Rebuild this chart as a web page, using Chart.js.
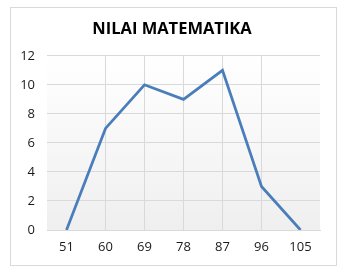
<!DOCTYPE html>
<html>
<head>
<meta charset="utf-8">
<script src="https://cdn.jsdelivr.net/npm/chart.js@4/dist/chart.umd.min.js"></script>
<style>
  html, body { margin: 0; padding: 0; background: #fff; }
  #wrap { width: 347px; height: 275px; }
</style>
</head>
<body>
<div id="wrap"><canvas id="chart" width="347" height="275"></canvas></div>
<script>
const labels = ["51", "60", "69", "78", "87", "96", "105"];
const values = [0, 7, 10, 9, 11, 3, 0];
const yTicks = [0, 2, 4, 6, 8, 10, 12];

// gradient plot background + outer frame
const background = {
  id: "background",
  afterLayout(chart) {
    // centre the title over the frame instead of the padded area
    if (chart.titleBlock) {
      chart.titleBlock.left += 12;
      chart.titleBlock.width -= 12;
    }
  },
  beforeDraw(chart) {
    const { ctx, chartArea: a } = chart;
    ctx.save();
    ctx.strokeStyle = "#d9d9d9";
    ctx.lineWidth = 1;
    ctx.strokeRect(10.5, 7.5, 326, 258);
    const g = ctx.createLinearGradient(0, a.top, 0, a.bottom);
    g.addColorStop(0, "#ffffff");
    g.addColorStop(1, "#efefef");
    ctx.fillStyle = g;
    ctx.fillRect(a.left, a.top, a.right - a.left, a.bottom - a.top);
    ctx.restore();
  },
};

new Chart(document.getElementById("chart").getContext("2d"), {
  type: "line",
  data: {
    labels: labels,
    datasets: [
      {
        data: values,
        borderColor: "#4a7ebb",
        borderWidth: 2.75,
        pointRadius: 0,
        tension: 0,
        fill: false,
      },
    ],
  },
  options: {
    responsive: false,
    animation: false,
    layout: { padding: { left: 12, right: 27, top: 0, bottom: 0 } },
    plugins: {
      legend: { display: false },
      tooltip: { enabled: false },
      title: {
        display: true,
        text: "NILAI MATEMATIKA",
        color: "#000",
        font: { family: "Open Sans", size: 16.5, weight: "bold", lineHeight: 1.2 },
        padding: { top: 19, bottom: 17 },
      },
    },
    scales: {
      x: {
        offset: true,
        grid: {
          drawTicks: false,
          color: (c) =>
            c.index === 0 || c.index === labels.length - 1 ? "rgba(0,0,0,0)" : "#d9d9d9",
        },
        border: { display: true, color: "#d9d9d9" },
        ticks: {
          color: "#1a1a1a",
          padding: 9,
          maxRotation: 0,
          font: { family: "Open Sans", size: 13 },
        },
        afterFit: (s) => { s.height = 45; },
      },
      y: {
        min: 0,
        max: 12,
        afterBuildTicks: (s) => { s.ticks = yTicks.map((v) => ({ value: v })); },
        grid: { drawTicks: false, color: "#d9d9d9" },
        border: { display: false },
        ticks: {
          color: "#1a1a1a",
          padding: 12,
          font: { family: "Open Sans", size: 13 },
        },
        afterFit: (s) => { s.width = 35; },
      },
    },
  },
  plugins: [background],
});
</script>
</body>
</html>
